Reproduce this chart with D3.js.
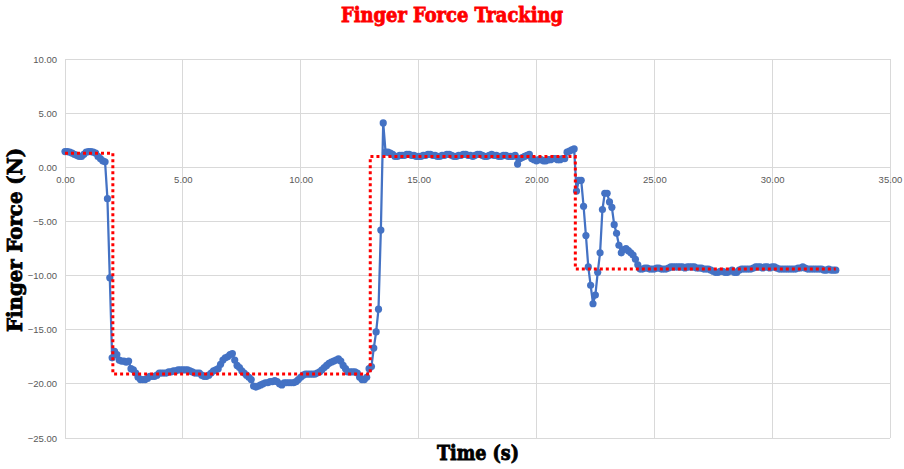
<!DOCTYPE html>
<html>
<head>
<meta charset="utf-8">
<script src="https://cdn.jsdelivr.net/npm/d3@7"></script>
<style>
  html, body { margin: 0; padding: 0; background: #fff; }
  svg { display: block; }
</style>
</head>
<body>
<svg id="chart" width="904" height="469"></svg>
<script>
// Measured finger force, sampled every 0.1 s starting at t = 0
const sampleInterval = 0.1;
const force = [
  1.45, 1.45, 1.4, 1.3, 1.2, 1.1, 1.0, 1.0, 1.2, 1.4,
  1.45, 1.45, 1.4, 1.3, 1.0, 0.8, 0.6, 0.5, -2.9, -10.2,
  -17.6, -17.0, -17.3, -17.8, -17.9, -17.9, -18.0, -17.9, -18.6, -18.7,
  -19.0, -19.4, -19.6, -19.6, -19.6, -19.5, -19.3, -19.3, -19.3, -19.2,
  -19.0, -19.0, -19.0, -19.0, -18.9, -18.9, -18.8, -18.8, -18.7, -18.7,
  -18.7, -18.7, -18.7, -18.8, -18.9, -19.0, -19.0, -19.0, -19.2, -19.3,
  -19.3, -19.2, -19.0, -18.8, -18.7, -18.6, -18.2, -17.8, -17.6, -17.5,
  -17.3, -17.2, -17.8, -18.3, -18.5, -18.8, -19.0, -19.2, -19.4, -19.6,
  -20.2, -20.3, -20.2, -20.1, -20.0, -19.9, -19.9, -19.8, -19.8, -19.7,
  -19.8, -20.0, -20.1, -19.9, -19.9, -19.9, -19.9, -19.9, -19.8, -19.6,
  -19.4, -19.2, -19.1, -19.1, -19.1, -19.1, -19.1, -19.0, -18.9, -18.7,
  -18.5, -18.3, -18.1, -18.0, -17.9, -17.8, -17.7, -17.9, -18.3, -18.6,
  -18.9, -18.9, -18.9, -18.9, -19.0, -19.4, -19.6, -19.6, -19.4, -18.6,
  -18.4, -16.7, -15.2, -13.1, -5.8, 4.1, 1.4, 1.4, 1.3, 1.2,
  1.0, 1.0, 1.1, 1.1, 1.1, 1.2, 1.2, 1.1, 1.1, 1.0,
  1.0, 1.0, 1.1, 1.1, 1.2, 1.2, 1.1, 1.1, 1.0, 1.0,
  1.1, 1.1, 1.2, 1.2, 1.1, 1.0, 1.0, 1.1, 1.1, 1.2,
  1.2, 1.1, 1.1, 1.0, 1.1, 1.2, 1.2, 1.1, 1.0, 1.0,
  1.1, 1.2, 1.1, 1.1, 1.0, 1.0, 1.1, 1.1, 1.0, 1.0,
  1.0, 1.1, 0.3, 0.8, 0.9, 1.0, 1.1, 1.2, 0.8, 0.7,
  0.6, 0.7, 0.7, 0.6, 0.6, 0.7, 0.7, 0.8, 0.8, 0.7,
  0.7, 0.8, 0.8, 1.4, 1.5, 1.6, 1.7, -2.2, -1.2, -1.2,
  -3.6, -6.3, -9.2, -10.9, -12.6, -11.8, -9.7, -7.9, -3.9, -2.4,
  -2.4, -3.2, -3.7, -5.3, -6.1, -7.2, -7.9, -7.6, -7.5, -7.7,
  -7.9, -8.1, -8.5, -9.0, -9.4, -9.4, -9.3, -9.3, -9.4, -9.4,
  -9.4, -9.3, -9.3, -9.4, -9.4, -9.4, -9.3, -9.2, -9.2, -9.2,
  -9.2, -9.2, -9.2, -9.3, -9.2, -9.2, -9.2, -9.2, -9.3, -9.3,
  -9.3, -9.4, -9.4, -9.4, -9.5, -9.6, -9.7, -9.7, -9.6, -9.6,
  -9.7, -9.7, -9.6, -9.5, -9.7, -9.7, -9.5, -9.4, -9.4, -9.4,
  -9.4, -9.4, -9.3, -9.2, -9.2, -9.2, -9.3, -9.2, -9.2, -9.3,
  -9.2, -9.2, -9.3, -9.4, -9.4, -9.4, -9.4, -9.4, -9.4, -9.4,
  -9.4, -9.3, -9.3, -9.2, -9.3, -9.4, -9.4, -9.4, -9.4, -9.4,
  -9.4, -9.4, -9.5, -9.5, -9.4, -9.5, -9.5, -9.5
];

// Target force profile (step changes)
const targetTime  = [0, 2.03, 2.03, 12.95, 12.95, 21.65, 21.65, 32.7];
const targetForce = [1.3, 1.3, -19.1, -19.1, 1.0, 1.0, -9.4, -9.4];

// Axis ticks
const xTicks = [0, 5, 10, 15, 20, 25, 30, 35];
const yTicks = [10, 5, 0, -5, -10, -15, -20, -25];

const svg = d3.select("#chart");

const x = d3.scaleLinear().domain([0, 35]).range([65, 890]);
const y = d3.scaleLinear().domain([-25, 10]).range([438, 59]);

const fmt = d3.format(".2f");
const tickFont = "'Liberation Sans Narrow', 'Liberation Sans', Arial, sans-serif";

// Gridlines
const grid = svg.append("g");
grid.selectAll("line.h").data(yTicks).join("line")
  .attr("x1", x(0)).attr("x2", x(35))
  .attr("y1", d => y(d)).attr("y2", d => y(d))
  .attr("stroke", "#d9d9d9").attr("stroke-width", 1)
  .attr("shape-rendering", "crispEdges");
grid.selectAll("line.v").data(xTicks).join("line")
  .attr("y1", y(10)).attr("y2", y(-25))
  .attr("x1", d => x(d)).attr("x2", d => x(d))
  .attr("stroke", "#d9d9d9").attr("stroke-width", 1)
  .attr("shape-rendering", "crispEdges");

// Y axis labels
const yAxis = svg.append("g")
  .attr("transform", `translate(${x(0) - 8},0)`)
  .call(d3.axisLeft(y).tickValues(yTicks).tickFormat(fmt).tickSize(0).tickPadding(0));
yAxis.select(".domain").remove();
yAxis.selectAll("text")
  .attr("fill", "#595959").style("font-family", tickFont).style("font-size", "9.5px");

// X axis labels sit along the zero line
const xAxis = svg.append("g")
  .attr("transform", `translate(0,${y(0) + 9})`)
  .call(d3.axisBottom(x).tickValues(xTicks).tickFormat(fmt).tickSize(0).tickPadding(0));
xAxis.select(".domain").remove();
xAxis.selectAll("text")
  .attr("fill", "#595959").style("font-family", tickFont).style("font-size", "9.5px");

// Measured force series
const series = force.map((v, i) => ({ t: +(i * sampleInterval).toFixed(1), v }));
const line = d3.line().x(d => x(d.t)).y(d => y(d.v));

svg.append("path")
  .datum(series)
  .attr("fill", "none")
  .attr("stroke", "#4472c4")
  .attr("stroke-width", 2.25)
  .attr("stroke-linejoin", "round")
  .attr("d", line);

svg.append("g").selectAll("circle").data(series).join("circle")
  .attr("cx", d => x(d.t)).attr("cy", d => y(d.v))
  .attr("r", 3.6)
  .attr("fill", "#4472c4");

// Target profile
const target = targetTime.map((t, i) => ({ t, v: targetForce[i] }));
svg.append("path")
  .datum(target)
  .attr("fill", "none")
  .attr("stroke", "#ff0000")
  .attr("stroke-width", 3)
  .attr("stroke-dasharray", "3,3")
  .attr("d", line);

// Titles (heavy slab serif, thickened with a matching stroke)
const slab = "'DejaVu Serif Condensed', 'DejaVu Serif', serif";
svg.append("text")
  .attr("x", 452).attr("y", 22)
  .attr("text-anchor", "middle")
  .attr("textLength", 222).attr("lengthAdjust", "spacingAndGlyphs")
  .style("font-family", slab).style("font-weight", "900").style("font-size", "21px")
  .attr("fill", "#ff0000").attr("stroke", "#ff0000").attr("stroke-width", 0.8)
  .text("Finger Force Tracking");

svg.append("text")
  .attr("x", 478).attr("y", 460)
  .attr("text-anchor", "middle")
  .attr("textLength", 82).attr("lengthAdjust", "spacingAndGlyphs")
  .style("font-family", slab).style("font-weight", "900").style("font-size", "21px")
  .attr("fill", "#000").attr("stroke", "#000").attr("stroke-width", 0.8)
  .text("Time (s)");

svg.append("text")
  .attr("transform", "translate(22,240) rotate(-90)")
  .attr("text-anchor", "middle")
  .attr("textLength", 184).attr("lengthAdjust", "spacingAndGlyphs")
  .style("font-family", slab).style("font-weight", "900").style("font-size", "21px")
  .attr("fill", "#000").attr("stroke", "#000").attr("stroke-width", 0.8)
  .text("Finger Force (N)");
</script>
</body>
</html>
